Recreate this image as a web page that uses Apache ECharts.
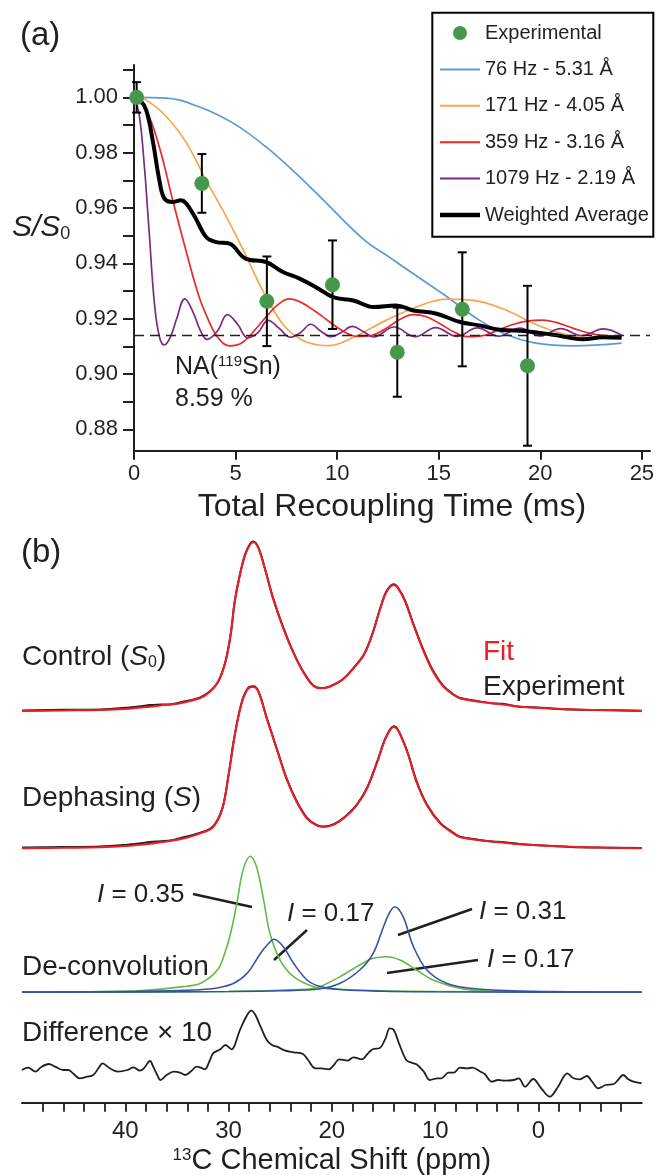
<!DOCTYPE html>
<html>
<head>
<meta charset="utf-8">
<title>REDOR dephasing and 13C spectra</title>
<script src="https://cdn.jsdelivr.net/npm/echarts@6.0.0/dist/echarts.min.js"></script>
<style>
html, body { margin: 0; padding: 0; background: #fff; }
#chart { width: 656px; height: 1175px; }
</style>
</head>
<body>
<div id="chart"></div>
<script>
// ---------- panel (a): REDOR dephasing ----------
var expTime  = [0.13, 3.34, 6.54, 9.77, 12.96, 16.16, 19.37];
var expValue = [1.000, 0.9689, 0.9263, 0.9323, 0.9079, 0.9234, 0.9030];
var expError = [0.0055, 0.0106, 0.0162, 0.0160, 0.0161, 0.0206, 0.0289];

var curve76 = [[0,1.0],[1.6,0.9997],[3.2,0.9966],[4.9,0.9906],[6.5,0.9821],[8.15,0.9713],[9.2,0.9638],
  [11.3,0.9487],[12.6,0.9421],[13.3,0.9385],[15.2,0.929],[17.0,0.9195],[18.35,0.9142],[19.7,0.9113],
  [21.6,0.9102],[24.0,0.9112]];
var curve171 = [[0,1.0],[0.6,0.999],[1.6,0.993],[2.6,0.9833],[3.55,0.970],[4.55,0.9568],[5.5,0.943],
  [6.35,0.930],[7.33,0.918],[8.15,0.9128],[9.1,0.9105],[9.6,0.9103],[10.8,0.9133],[12.4,0.9194],
  [14.1,0.9248],[15.4,0.9271],[16.7,0.9266],[18.35,0.923],[19.7,0.9182],[21.0,0.9148],[22.3,0.9131],[24.0,0.913]];
var curve359 = [[0,1.0],[0.6,0.9954],[1.25,0.982],[1.9,0.963],[2.6,0.9435],[3.2,0.928],[3.6,0.9206],
  [4.1,0.9135],[4.7,0.9102],[5.3,0.9112],[5.9,0.9155],[6.6,0.9215],[7.1,0.9252],[7.65,0.9272],[8.2,0.926],
  [8.9,0.9228],[9.6,0.919],[10.3,0.9155],[11.0,0.9136],[11.7,0.914],[12.4,0.9165],[13.1,0.9198],
  [13.75,0.9215],[14.4,0.9207],[15.1,0.918],[15.8,0.915],[16.4,0.9135],[17.1,0.9138],[17.8,0.9155],
  [18.6,0.9178],[19.4,0.9192],[20.1,0.9195],[20.8,0.9186],[21.6,0.9166],[22.4,0.9148],[23.2,0.9139],[24.0,0.9138]];
var curve1079 = [[0,1.0],[0.25,0.994],[0.5,0.976],[0.75,0.951],[1.0,0.926],[1.25,0.9135],[1.5,0.9105],
  [1.8,0.9135],[2.1,0.920],[2.5,0.9272],[2.9,0.9225],[3.25,0.916],[3.6,0.9125],[4.1,0.9155],[4.6,0.9215],
  [5.1,0.918],[5.6,0.9131],[6.1,0.915],[6.6,0.9194],[7.15,0.9165],[7.7,0.9133],[8.2,0.915],[8.7,0.918],
  [9.2,0.9155],[9.7,0.9135],[10.2,0.915],[10.75,0.9172],[11.3,0.9153],[11.8,0.9134],[12.8,0.917],
  [13.85,0.9135],[14.85,0.9168],[15.9,0.9136],[16.9,0.9167],[17.95,0.9137],[19.0,0.9166],[20.0,0.9138],
  [21.0,0.9164],[22.05,0.9139],[23.1,0.9163],[24.0,0.914]];
var curveWeighted = [[0,1.0],[0.3,0.999],[0.6,0.9954],[0.92,0.9845],[1.25,0.970],[1.5,0.9634],[1.9,0.9622],
  [2.3,0.9628],[2.9,0.958],[3.55,0.9495],[4.05,0.9477],[4.7,0.9471],[5.5,0.9417],[6.5,0.9405],[7.33,0.9369],
  [8.15,0.9345],[9.0,0.9312],[9.8,0.9278],[10.8,0.9266],[11.8,0.9242],[12.9,0.9248],[13.75,0.923],
  [14.9,0.9218],[16.05,0.9188],[17.0,0.9176],[18.0,0.916],[19.3,0.9155],[20.65,0.9142],[22.1,0.9126],
  [23.1,0.9133],[24.0,0.9131]];
var naLevel = 0.9141;

var seriesNames = ['Experimental', '76 Hz - 5.31 Å', '171 Hz - 4.05 Å', '359 Hz - 3.16 Å', '1079 Hz - 2.19 Å', 'Weighted Average'];
var yTicksA  = [0.88, 0.89, 0.90, 0.91, 0.92, 0.93, 0.94, 0.95, 0.96, 0.97, 0.98, 0.99, 1.00, 1.01];
var yLabelsA = [0.88, 0.90, 0.92, 0.94, 0.96, 0.98, 1.00];
var xTicksA  = [0, 5, 10, 15, 20, 25];

// ---------- panel (b): 13C spectra, [ppm, intensity] ----------
var ctrlFit = [[50,0],[46,0.5],[42.4,1],[40,2],[37.6,4.3],[36.6,5.5],[34.7,7.7],[32.8,12.7],[31.8,19.3],
  [31.0,29.3],[30.3,49.3],[29.8,76],[29.4,109.3],[28.9,136],[28.4,156],[27.9,166.7],[27.6,168.7],[27.1,162.7],
  [26.5,142.7],[25.7,112.7],[24.7,82.7],[23.7,57.7],[22.7,37.7],[21.8,25.3],[21.0,22.7],[20.2,24.3],[19.0,31],
  [17.9,42.7],[16.9,56],[16.1,76],[15.3,102.7],[14.7,119.3],[14.0,126],[13.6,122.7],[12.9,109.3],[12.1,86],
  [11.1,59.3],[10.2,39.3],[9.2,24.3],[8.2,16],[7.6,12.7],[5.7,9.3],[3.5,6.5],[1.8,4.3],[-3.1,1.7],[-10,0]];
var ctrlExp = [[50,0.6],[46,1.2],[42.4,1.6],[40,3.2],[38.5,4.8],[37.6,6],[36.6,6.4],[35.5,6.8],[34.7,8.6],
  [32.8,13.4],[31.8,19.8],[31.0,29.6],[30.3,49.6],[29.8,76.5],[29.4,109.8],[28.9,136.5],[28.4,156.6],
  [27.9,167.4],[27.6,169.4],[27.1,163.2],[26.5,143.3],[25.7,113.4],[24.7,83.4],[23.7,58.2],[22.7,38.2],
  [21.8,25.6],[21.0,22.9],[20.2,24.6],[19.0,31.2],[17.9,43],[16.9,56.4],[16.1,76.5],[15.3,103.2],[14.7,119.9],
  [14.0,126.8],[13.6,123.4],[12.9,110],[12.1,86.8],[11.1,60.2],[10.2,40.2],[9.2,25],[8.2,16.5],[7.6,13],
  [5.7,9.6],[4.5,7.8],[3.5,7.2],[1.8,4.2],[0,3.4],[-3.1,1.4],[-6,1],[-10,0.2]];
var dephFit = [[50,0],[46,0.5],[42.4,1],[40,2.2],[37.6,4.5],[36.6,6],[34.7,9],[32.8,14.7],[31.5,21.3],
  [30.6,39.7],[30.0,73],[29.4,113],[28.7,146.3],[28.1,159.7],[27.6,161.3],[27.1,156.3],[26.3,129.7],[25.3,98],
  [24.4,69.7],[23.4,46.3],[22.4,29.7],[21.5,23],[20.8,21.3],[19.8,23.7],[18.7,31.3],[17.6,43],[16.6,59.7],
  [15.6,86.3],[14.8,109.7],[14.0,121.3],[13.6,118],[12.7,96.3],[11.8,66.3],[10.8,43],[9.5,24.7],[8.2,14.7],
  [7.6,11.3],[5.7,8],[3.5,5.8],[1.8,4],[-3.1,1.5],[-10,0]];
var dephExp = [[50,0.7],[46,1.3],[42.4,1.8],[40,3.4],[38.5,5],[37.6,6.2],[36.6,7],[35.5,8],[34.7,10],
  [32.8,15.4],[31.5,21.8],[30.6,40.2],[30.0,73.6],[29.4,113.6],[28.7,147],[28.1,160.4],[27.6,162],[27.1,157],
  [26.3,130.4],[25.3,98.7],[24.4,70.4],[23.4,47],[22.4,30.3],[21.5,23.4],[20.8,21.7],[19.8,24.1],[18.7,31.8],
  [17.6,43.5],[16.6,60.3],[15.6,87],[14.8,110.4],[14.0,122],[13.6,118.7],[12.7,97],[11.8,67.2],[10.8,43.8],
  [9.5,25.4],[8.2,15.2],[7.6,11.6],[5.7,8.4],[4.5,6.8],[3.5,6.4],[1.8,4.4],[0,3],[-3.1,1.4],[-6,0.8],[-10,0.2]];
var deconvG1 = [[50,0.3],[39.2,1.3],[34.4,5.7],[32.7,9],[31.1,22],[30.4,38],[29.8,59],[29.2,89],[28.6,122],
  [27.9,136],[27.3,125.7],[26.6,92],[26.0,59],[25.0,32],[23.7,15.7],[21.8,5.7],[20.2,3.5],[15,1.5],[10,0.8],
  [0,0.3],[-10,0.1]];
var deconvB1 = [[50,0.2],[39,1],[32.8,2.6],[31,4.5],[29.5,9],[28.2,19],[26.9,39],[26.2,48],[25.6,53],
  [24.7,45.6],[23.7,29],[22.4,12.3],[21.1,5.7],[19,2.5],[15,1],[10,0.5],[0,0.2],[-10,0.1]];
var deconvB2 = [[50,0.1],[30,0.8],[25,1.5],[21.1,3.6],[19.2,9],[17.3,22.3],[16.0,39],[15.0,65.6],[14.4,80],
  [13.9,85.6],[13.1,75.6],[12.1,45.6],[10.8,22.3],[8.9,9],[6.6,4],[1.8,1.3],[-10,0.3]];
var deconvG2 = [[50,0.1],[30,0.8],[25,2],[22,3.5],[21.1,5.7],[19.2,15.7],[17.3,27.3],[16.0,34],[14.7,35.6],
  [13.4,32.3],[11.8,22.3],[10.2,12.3],[7.6,4],[5.0,1.3],[0,0.4],[-10,0.1]];
var diffTrace = [[50,0],[49.4,2.3],[48.7,-1.7],[48.1,3.3],[47.4,6],[46.8,3.3],[46.0,0],[45.5,0],[45.0,-4],
  [44.4,-8.3],[43.7,-6.7],[43.1,-5],[42.6,1.7],[42.2,6.7],[41.5,1.7],[40.7,-1.7],[39.8,0],[39.2,2.7],
  [38.6,-0.7],[38.2,1.7],[37.6,9],[37.3,3.3],[36.9,-5],[36.6,-10],[36.0,-5],[35.3,-1.7],[34.7,-2.7],
  [34.2,-5],[33.6,-1],[33.1,3.3],[32.7,2.3],[32.3,0.7],[31.8,10],[31.5,16.7],[30.8,20.7],[30.3,25],
  [29.7,20.7],[29.4,25],[28.9,40],[28.2,55],[27.8,59.3],[27.4,55],[26.9,43.3],[26.3,30],[25.8,25],
  [25.3,23.3],[24.5,19.3],[23.7,17.7],[22.8,16],[22.3,10],[21.6,1.7],[21.0,1.7],[20.3,0.7],[19.8,5],
  [19.3,10.7],[18.5,9.3],[17.9,12.7],[17.1,10.7],[16.5,16.7],[16.0,21],[15.4,21.7],[14.8,31.7],[14.4,41.7],
  [14.0,40],[13.5,26.7],[12.8,10],[12.3,7.3],[11.8,5.7],[11.1,-1.7],[10.5,-10],[9.8,-8.3],[9.4,-8.3],
  [8.7,-2.7],[8.2,-2.7],[7.6,2.3],[6.9,1.7],[6.4,2.3],[5.6,-1.7],[5.2,-4],[4.5,-11.7],[3.9,-10],[3.2,-10.7],
  [2.4,-10],[1.9,-8.3],[1.3,-16.7],[0.5,-9],[-0.2,-17.3],[-1.1,-26.7],[-1.9,-16.7],[-2.8,-3.3],[-3.4,-8.3],
  [-4.0,-9.3],[-4.7,-6],[-5.2,-11.7],[-5.8,-18.3],[-6.5,-15],[-7.3,-14],[-7.7,-10],[-8.2,-5],[-8.7,-9.3],
  [-9.2,-11.7],[-10,-13.3]];
var xTicksB  = [-8,-6,-4,-2,0,2,4,6,8,10,12,14,16,18,20,22,24,26,28,30,32,34,36,38,40,42,44,46,48];
var xLabelsB = [0, 10, 20, 30, 40];

// ---------- styles ----------
var FONT = 'Liberation Sans, Arial, Helvetica, sans-serif';
var INK = '#231f20';
var colA = { exp: '#46994a', c76: '#5b9bd5', c171: '#f9a54e', c359: '#ec2a24', c1079: '#7b2c83', avg: '#000' };
var colB = { fit: '#ee1c25', exp: INK, green: '#62bb46', blue: '#3552a3' };
var thinIcon = 'path://M0,0 L40,0 L40,2 L0,2 Z';
var thickIcon = 'path://M0,0 L40,0 L40,4.5 L0,4.5 Z';

var chart = echarts.init(document.getElementById('chart'));

function curveSeries(name, data, color, width, z) {
  return {
    name: name, type: 'line', xAxisIndex: 0, yAxisIndex: 0, data: data,
    smooth: 0.4, symbol: 'none', z: z,
    lineStyle: { color: color, width: width }, itemStyle: { color: color }
  };
}

function specSeries(idx, data, color, width, z) {
  return {
    type: 'line', xAxisIndex: idx, yAxisIndex: idx, data: data, smooth: 0.35,
    symbol: 'none', clip: false, z: z, silent: true,
    lineStyle: { color: color, width: width }
  };
}

function hiddenX(idx) {
  return { type: 'value', gridIndex: idx, min: -10, max: 50, inverse: true, show: false };
}
function hiddenY(idx, mn, mx) {
  return { type: 'value', gridIndex: idx, min: mn, max: mx, show: false };
}
function gridBox(left, right, top, bottom) {
  return { left: left, right: right, top: top, bottom: bottom, containLabel: false, outerBoundsMode: 'none' };
}

var errData = expTime.map(function (t, i) {
  return [t, expValue[i] - expError[i], expValue[i] + expError[i]];
});
var expData = expTime.map(function (t, i) { return [t, expValue[i]]; });

var wLine = curveSeries(seriesNames[4], curve1079, colA.c1079, 1.7, 3);
wLine.markLine = {
  silent: true, symbol: 'none', label: { show: false }, precision: 4,
  lineStyle: { color: INK, width: 1.3, type: [10, 6] },
  data: [{ yAxis: naLevel }]
};

var legendData = [
  { name: seriesNames[0], icon: 'circle' },
  { name: seriesNames[1], icon: thinIcon },
  { name: seriesNames[2], icon: thinIcon },
  { name: seriesNames[3], icon: thinIcon },
  { name: seriesNames[4], icon: thinIcon },
  { name: seriesNames[5], icon: thickIcon }
];

var option = {
  animation: false,
  backgroundColor: '#fff',
  textStyle: { fontFamily: FONT, color: INK },
  grid: [
    gridBox(134, 6, 65, 724.3),
    gridBox(22, 14.3, 540, 464),
    gridBox(22, 14.3, 680, 326.7),
    gridBox(22, 14.3, 850, 182.7),
    gridBox(22, 14.3, 1005, 72.3)
  ],
  legend: {
    data: legendData,
    orient: 'vertical', left: 435, top: 18,
    itemWidth: 40, itemHeight: 14, itemGap: 16.4,
    textStyle: { fontSize: 20, color: INK, fontFamily: FONT },
    selectedMode: false
  },
  xAxis: [
    {
      type: 'value', gridIndex: 0, min: 0, max: 25.4,
      name: 'Total Recoupling Time (ms)', nameLocation: 'middle', nameGap: 40,
      nameTextStyle: { fontSize: 32, color: INK, fontFamily: FONT },
      axisLine: { show: true, onZero: false, lineStyle: { color: INK, width: 2 } },
      axisTick: { show: true, length: 9, customValues: xTicksA, lineStyle: { color: INK, width: 2 } },
      axisLabel: { customValues: xTicksA, fontSize: 22, color: INK, margin: 12 },
      splitLine: { show: false }
    },
    hiddenX(1), hiddenX(2), hiddenX(3),
    {
      type: 'value', gridIndex: 4, min: -10, max: 50, inverse: true,
      name: '{sup|13}C Chemical Shift (ppm)', nameLocation: 'middle', nameGap: 44,
      nameTextStyle: {
        fontSize: 29, color: INK, fontFamily: FONT,
        rich: { sup: { fontSize: 17, color: INK, fontFamily: FONT, verticalAlign: 'top' } }
      },
      axisLine: { show: true, onZero: false, lineStyle: { color: INK, width: 2 } },
      axisTick: { show: true, length: 9, customValues: xTicksB, lineStyle: { color: INK, width: 1.8 } },
      axisLabel: { customValues: xLabelsB, fontSize: 24, color: INK, margin: 17 },
      splitLine: { show: false }
    }
  ],
  yAxis: [
    {
      type: 'value', gridIndex: 0, min: 0.8723, max: 1.0117,
      axisLine: { show: true, onZero: false, lineStyle: { color: INK, width: 2 } },
      axisTick: { show: true, length: 11, customValues: yTicksA, lineStyle: { color: INK, width: 2 } },
      axisLabel: {
        customValues: yLabelsA, fontSize: 22, color: INK, margin: 16,
        formatter: function (v) { return v.toFixed(2); }
      },
      splitLine: { show: false }
    },
    hiddenY(1, 0, 171),
    hiddenY(2, 0, 168.3),
    hiddenY(3, 0, 142.3),
    hiddenY(4, -32.7, 65)
  ],
  series: [
    curveSeries(seriesNames[1], curve76, colA.c76, 1.7, 2),
    curveSeries(seriesNames[2], curve171, colA.c171, 1.7, 2),
    curveSeries(seriesNames[3], curve359, colA.c359, 1.7, 2),
    wLine,
    curveSeries(seriesNames[5], curveWeighted, colA.avg, 4, 4),
    {
      name: 'error', type: 'custom', xAxisIndex: 0, yAxisIndex: 0, z: 5, silent: true,
      encode: { x: 0, y: [1, 2] },
      data: errData,
      renderItem: function (params, api) {
        var lo = api.coord([api.value(0), api.value(1)]);
        var hi = api.coord([api.value(0), api.value(2)]);
        var w = 4.5;
        var st = { stroke: '#000', lineWidth: 2 };
        return {
          type: 'group',
          children: [
            { type: 'line', shape: { x1: lo[0], y1: lo[1], x2: hi[0], y2: hi[1] }, style: st },
            { type: 'line', shape: { x1: lo[0] - w, y1: lo[1], x2: lo[0] + w, y2: lo[1] }, style: st },
            { type: 'line', shape: { x1: hi[0] - w, y1: hi[1], x2: hi[0] + w, y2: hi[1] }, style: st }
          ]
        };
      }
    },
    {
      name: seriesNames[0], type: 'scatter', xAxisIndex: 0, yAxisIndex: 0, z: 6,
      data: expData, symbol: 'circle', symbolSize: 15,
      itemStyle: { color: colA.exp, opacity: 1 }
    },
    // control
    specSeries(1, ctrlExp, colB.exp, 2, 2),
    specSeries(1, ctrlFit, colB.fit, 2, 3),
    // dephasing
    specSeries(2, dephExp, colB.exp, 2, 2),
    specSeries(2, dephFit, colB.fit, 2, 3),
    // de-convolution
    specSeries(3, deconvG2, colB.green, 1.6, 2),
    specSeries(3, deconvG1, colB.green, 1.6, 2),
    specSeries(3, deconvB2, colB.blue, 1.6, 3),
    specSeries(3, deconvB1, colB.blue, 1.6, 3),
    // difference x 10
    specSeries(4, diffTrace, colB.exp, 1.8, 2)
  ],
  graphic: [
    { type: 'rect', shape: { x: 432.3, y: 12.7, width: 221, height: 224 },
      style: { fill: 'none', stroke: '#000', lineWidth: 2 }, z: 10 },
    { type: 'text', x: 20, y: 36, style: { text: '(a)', font: '33px ' + FONT, fill: INK, verticalAlign: 'middle' } },
    { type: 'text', x: 12, y: 228, style: {
        text: '{i|S}{i|/}{i|S}{sub|0}', fill: INK, verticalAlign: 'middle',
        rich: { i: { fontSize: 30, fontStyle: 'italic', fontFamily: FONT, fill: INK },
                sub: { fontSize: 18, fontFamily: FONT, verticalAlign: 'bottom', fill: INK } } } },
    { type: 'text', x: 175, y: 367, style: {
        text: 'NA({sup|119}Sn)', font: '25px ' + FONT, fill: INK, verticalAlign: 'middle',
        rich: { sup: { fontSize: 15, fontFamily: FONT, verticalAlign: 'top', fill: INK } } } },
    { type: 'text', x: 175, y: 399, style: { text: '8.59 %', font: '25px ' + FONT, fill: INK, verticalAlign: 'middle' } },
    { type: 'text', x: 21, y: 553, style: { text: '(b)', font: '33px ' + FONT, fill: INK, verticalAlign: 'middle' } },
    { type: 'text', x: 22, y: 657, style: {
        text: 'Control ({i|S}{sub|0})', font: '28px ' + FONT, fill: INK, verticalAlign: 'middle',
        rich: { i: { fontSize: 28, fontStyle: 'italic', fontFamily: FONT, fill: INK },
                sub: { fontSize: 16, fontFamily: FONT, verticalAlign: 'bottom', fill: INK } } } },
    { type: 'text', x: 483, y: 652, style: { text: 'Fit', font: '28px ' + FONT, fill: colB.fit, verticalAlign: 'middle' } },
    { type: 'text', x: 483, y: 687, style: { text: 'Experiment', font: '28px ' + FONT, fill: INK, verticalAlign: 'middle' } },
    { type: 'text', x: 22, y: 798, style: {
        text: 'Dephasing ({i|S})', font: '28px ' + FONT, fill: INK, verticalAlign: 'middle',
        rich: { i: { fontSize: 28, fontStyle: 'italic', fontFamily: FONT, fill: INK } } } },
    { type: 'text', x: 22, y: 967, style: { text: 'De-convolution', font: '28px ' + FONT, fill: INK, verticalAlign: 'middle' } },
    { type: 'text', x: 22, y: 1033, style: { text: 'Difference × 10', font: '28px ' + FONT, fill: INK, verticalAlign: 'middle' } },
    // intensity labels with leader lines
    { type: 'text', x: 97, y: 895, style: { text: '{i|I} = 0.35', font: '26px ' + FONT, fill: INK, verticalAlign: 'middle',
        rich: { i: { fontSize: 26, fontStyle: 'italic', fontFamily: FONT, fill: INK } } } },
    { type: 'line', shape: { x1: 193, y1: 894, x2: 252, y2: 907 }, style: { stroke: INK, lineWidth: 2.5 } },
    { type: 'text', x: 287, y: 914, style: { text: '{i|I} = 0.17', font: '26px ' + FONT, fill: INK, verticalAlign: 'middle',
        rich: { i: { fontSize: 26, fontStyle: 'italic', fontFamily: FONT, fill: INK } } } },
    { type: 'line', shape: { x1: 307, y1: 930, x2: 274, y2: 960 }, style: { stroke: INK, lineWidth: 2.5 } },
    { type: 'text', x: 479, y: 912, style: { text: '{i|I} = 0.31', font: '26px ' + FONT, fill: INK, verticalAlign: 'middle',
        rich: { i: { fontSize: 26, fontStyle: 'italic', fontFamily: FONT, fill: INK } } } },
    { type: 'line', shape: { x1: 472, y1: 909, x2: 398, y2: 935 }, style: { stroke: INK, lineWidth: 2.5 } },
    { type: 'text', x: 487, y: 960, style: { text: '{i|I} = 0.17', font: '26px ' + FONT, fill: INK, verticalAlign: 'middle',
        rich: { i: { fontSize: 26, fontStyle: 'italic', fontFamily: FONT, fill: INK } } } },
    { type: 'line', shape: { x1: 478, y1: 960, x2: 387, y2: 973 }, style: { stroke: INK, lineWidth: 2.5 } }
  ]
};

chart.setOption(option);
</script>
</body>
</html>
